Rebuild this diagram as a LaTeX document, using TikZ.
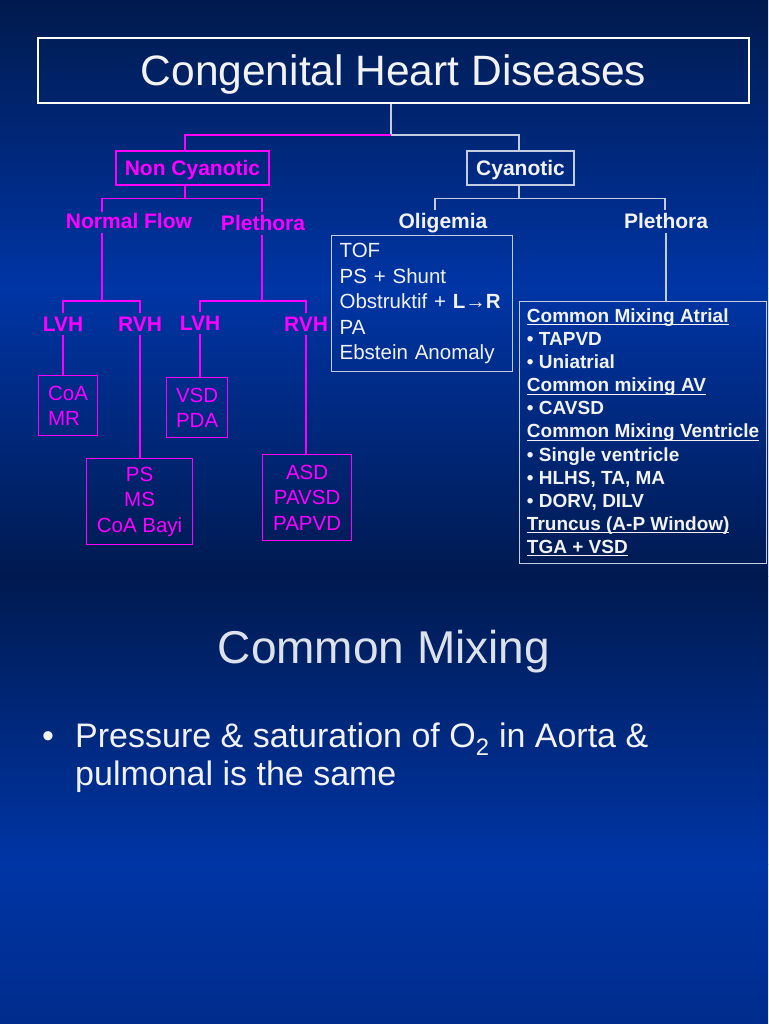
\documentclass[tikz,border=0pt]{standalone}
\usepackage{fontspec}
\setmainfont{Liberation Sans}
\definecolor{navytop}{HTML}{001A4D}
\definecolor{slideblue}{HTML}{0035A5}
\definecolor{navybot}{HTML}{001A50}
\definecolor{navyend}{HTML}{002C8C}
\definecolor{pinkink}{HTML}{FF00FF}
\definecolor{greyink}{HTML}{C4CCE0}
\definecolor{softwhite}{HTML}{F2F2F2}
\definecolor{headgrey}{HTML}{DDE2EA}
% underlined sub heading, rule close to the baseline
\newcommand{\subhead}[1]{\sbox0{#1}\rlap{\rule[-3pt]{\wd0}{1.2pt}}\usebox0}

\begin{document}
\begin{tikzpicture}[x=1pt,y=-1pt,
    magwire/.style={draw=pinkink,line width=1.2pt},
    greywire/.style={draw=greyink,line width=1.2pt},
    branchlabel/.style={font=\bfseries\fontsize{21}{25}\selectfont,anchor=base},
    pinkbox/.style={draw=pinkink,line width=1.2pt,text=pinkink,anchor=north west,
        font=\fontsize{20.5}{25.5}\selectfont},
    greybox/.style={draw=greyink,line width=1.2pt,text=softwhite,anchor=north west}]

    % Background: two slides, each dark - blue - dark
    \shade[top color=navytop,bottom color=slideblue] (0,0) rectangle (768,288);
    \shade[top color=slideblue,bottom color=navybot] (0,288) rectangle (768,576);
    \shade[top color=navybot,bottom color=slideblue] (0,576) rectangle (768,864);
    \shade[top color=slideblue,bottom color=navyend] (0,864) rectangle (768,1024);
    \useasboundingbox (0,0) rectangle (768,1024);

    % Title
    \node[draw=white,line width=2pt,minimum width=711pt,minimum height=65pt,
        text=softwhite,font=\fontsize{42.5}{50}\selectfont,text height=30.4pt,text depth=0pt]
        (title) at (393.5,70.5) {Congenital Heart Diseases};

    % First split
    \node[draw=pinkink,line width=1.2pt,text=pinkink,minimum width=153pt,minimum height=34pt,
        font=\bfseries\fontsize{21}{25}\selectfont,text height=15pt,text depth=0pt]
        (noncyan) at (192.5,168) {Non Cyanotic};
    \node[draw=greyink,line width=1.2pt,text=softwhite,minimum width=107pt,minimum height=34pt,
        font=\bfseries\fontsize{21}{25}\selectfont,text height=15pt,text depth=0pt]
        (cyan) at (520.5,168) {Cyanotic};
    \draw[greywire] ([xshift=-2.5pt]title.south) -- ++(0,31) coordinate (top-j);
    \draw[magwire] (top-j) -| ([xshift=-7.5pt]noncyan.north);
    \draw[greywire] (top-j) -| ([xshift=-1.5pt]cyan.north);

    % Non cyanotic: flow labels
    \node[branchlabel,text=pinkink] (normal) at (129,229) {Normal Flow};
    \node[branchlabel,text=pinkink] (pleth-nc) at (263,231) {Plethora};
    \coordinate (nf-top) at (102,212);
    \coordinate (pl-top) at (262,212);
    \draw[magwire] ([xshift=-7.5pt]noncyan.south) -- ++(0,13) coordinate (nc-j);
    \draw[magwire] (nf-top) |- (nc-j) -| (pl-top);

    % Hypertrophy labels
    \node[branchlabel,text=pinkink] (lvh-a) at (63,331) {LVH};
    \node[branchlabel,text=pinkink] (rvh-a) at (140,331) {RVH};
    \node[branchlabel,text=pinkink] (lvh-b) at (200,330) {LVH};
    \node[branchlabel,text=pinkink] (rvh-b) at (306,331) {RVH};
    \coordinate (nf-j) at (102,301);
    \coordinate (pl-j) at (262,301);
    \draw[magwire] (nf-j) -- (nf-j |- normal.south);
    \draw[magwire] (lvh-a.north) |- (nf-j) -| (rvh-a.north);
    \draw[magwire] (pl-j) -- (pl-j |- pleth-nc.south);
    \draw[magwire] (lvh-b.north) |- (pl-j) -| (rvh-b.north);

    % Non cyanotic lesions
    \node[pinkbox,align=left,minimum width=59pt,minimum height=60pt] (coa) at (38,375) {CoA\\MR};
    \node[pinkbox,align=center,minimum width=106pt,minimum height=86pt] (psms) at (86,458) {PS\\MS\\CoA Bayi};
    \node[pinkbox,align=center,minimum width=61pt,minimum height=60pt] (vsd) at (166,377) {VSD\\PDA};
    \node[pinkbox,align=center,minimum width=89pt,minimum height=86pt] (asd) at (262,454) {ASD\\PAVSD\\PAPVD};
    \foreach \lab/\leaf in {lvh-a/coa,rvh-a/psms,lvh-b/vsd,rvh-b/asd}
        \draw[magwire] (\lab.south) -- (\lab.south |- \leaf.north);

    % Cyanotic: flow labels
    \node[branchlabel,text=softwhite] (oligemia) at (443,229) {Oligemia};
    \node[branchlabel,text=softwhite] (pleth-cy) at (666,229) {Plethora};
    \coordinate (ol-top) at (435,210);
    \coordinate (pc-top) at (665,210);
    \draw[greywire] ([xshift=-1.5pt]cyan.south) -- ++(0,13) coordinate (cy-j);
    \draw[greywire] (ol-top) |- (cy-j) -| (pc-top);

    % Cyanotic lesions
    \node[greybox,align=left,text width=165pt,inner xsep=8pt,minimum height=136pt,
        font=\fontsize{20.5}{25.5}\selectfont] (tof) at (331,235)
        {TOF\\PS + Shunt\\Obstruktif + \textbf{L→R}\\PA\\Ebstein Anomaly};
    \node[greybox,align=left,minimum width=247pt,minimum height=262pt,
        font=\bfseries\fontsize{19}{23.1}\selectfont] (mixlist) at (519,301)
        {\subhead{Common Mixing Atrial}\\• TAPVD\\• Uniatrial\\
         \subhead{Common mixing AV}\\• CAVSD\\
         \subhead{Common Mixing Ventricle}\\• Single ventricle\\• HLHS, TA, MA\\• DORV, DILV\\
         \subhead{Truncus (A-P Window)}\\\subhead{TGA + VSD}};
    \draw[greywire] (pleth-cy.south) -- (pleth-cy.south |- mixlist.north);

    % Second slide
    \node[text=headgrey,font=\fontsize{46}{52}\selectfont,anchor=base] (mixhead) at (384,663) {Common Mixing};
    \node[text=softwhite,font=\fontsize{34}{38}\selectfont,anchor=base west,inner sep=0pt] (dot) at (42,747) {•};
    \node[text=softwhite,font=\fontsize{34}{38}\selectfont,anchor=base west,inner sep=0pt] (line-a) at (75,747)
        {Pressure \& saturation of O\textsubscript{2} in Aorta \&};
    \node[text=softwhite,font=\fontsize{34}{38}\selectfont,anchor=base west,inner sep=0pt] (line-b) at (75,785)
        {pulmonal is the same};
\end{tikzpicture}
\end{document}
